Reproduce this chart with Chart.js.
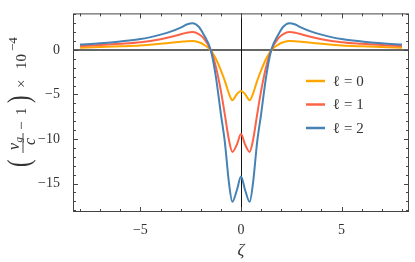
<!DOCTYPE html>
<html>
<head>
<meta charset="utf-8">
<script src="https://cdn.jsdelivr.net/npm/chart.js@4"></script>
<style>
  body { margin: 0; background: #fff; }
</style>
</head>
<body>
<canvas id="graphique-vitesse" width="415" height="262"></canvas>
<script>
// Données (zeta en abscisse, (v_g/c - 1) x 10^-4 en ordonnée)
const zeta = [-8, -7, -6, -5, -4, -3.5, -3, -2.7, -2.4, -2.1, -1.85, -1.5, -1.25, -1, -0.8, -0.6, -0.43, -0.2, 0,
  0.2, 0.43, 0.6, 0.8, 1, 1.25, 1.5, 1.85, 2.1, 2.4, 2.7, 3, 3.5, 4, 5, 6, 7, 8];
const vitesseL0 = [0.25, 0.32, 0.4, 0.5, 0.68, 0.8, 0.91, 0.98, 1.0, 0.86, 0.6, -0.05, -1.0, -2.3, -3.5, -4.9, -5.65, -4.95, -4.6,
  -4.95, -5.65, -4.9, -3.5, -2.3, -1.0, -0.05, 0.6, 0.86, 1.0, 0.98, 0.91, 0.8, 0.68, 0.5, 0.4, 0.32, 0.25];
const vitesseL1 = [0.43, 0.54, 0.68, 0.86, 1.2, 1.45, 1.75, 1.93, 2.0, 1.78, 1.3, -0.05, -1.9, -4.6, -7.3, -10.1, -11.45, -10.6, -9.45,
  -10.6, -11.45, -10.1, -7.3, -4.6, -1.9, -0.05, 1.3, 1.78, 2.0, 1.93, 1.75, 1.45, 1.2, 0.86, 0.68, 0.54, 0.43];
const vitesseL2 = [0.6, 0.75, 0.95, 1.22, 1.72, 2.05, 2.5, 2.85, 3.0, 2.6, 1.7, -0.05, -3.0, -7.2, -10.4, -14.9, -17.05, -15.7, -14.2,
  -15.7, -17.05, -14.9, -10.4, -7.2, -3.0, -0.05, 1.7, 2.6, 3.0, 2.85, 2.5, 2.05, 1.72, 1.22, 0.95, 0.75, 0.6];

const etiquettes = ["ℓ = 0", "ℓ = 1", "ℓ = 2"];
const couleurs = ["#ffa500", "#fc6347", "#4682b4"];
const ticksX = [-5, 0, 5];
const ticksY = [-15, -10, -5, 0];

const serif = '"Liberation Serif", "DejaVu Serif", serif';
const texteCouleur = "#333";

function points(valeurs) {
  return zeta.map((z, i) => ({ x: z, y: valeurs[i] }));
}

function formatMoins(v) {
  return v < 0 ? "−" + Math.abs(v) : String(v);
}

function trait(ctx, x1, y1, x2, y2) {
  ctx.beginPath();
  ctx.moveTo(x1, y1);
  ctx.lineTo(x2, y2);
  ctx.stroke();
}

// titre vertical dessiné à la main (fraction + exposant)
function dessinerTitreY(ctx) {
  ctx.save();
  ctx.translate(0, 168);
  ctx.rotate(-Math.PI / 2);
  ctx.fillStyle = texteCouleur;
  ctx.strokeStyle = texteCouleur;
  ctx.textAlign = "left";
  ctx.textBaseline = "alphabetic";

  // grandes parenthèses, un peu comprimées pour rester fines
  ctx.save();
  ctx.scale(0.7, 1);
  ctx.font = "32px " + serif;
  ctx.fillText("(", 1 / 0.7, 29);
  ctx.fillText(")", 65 / 0.7, 29);
  ctx.restore();

  ctx.font = "italic 16px " + serif;
  ctx.fillText("v", 18, 19);
  ctx.fillText("c", 23, 35);
  ctx.font = "italic 11px " + serif;
  ctx.fillText("g", 25.5, 21.5);
  ctx.lineWidth = 0.9;
  trait(ctx, 15, 23, 35, 23);

  ctx.font = "15px " + serif;
  ctx.fillText("−", 38, 25.5);
  ctx.fillText("1", 53, 25.5);
  ctx.fillText("×", 80, 25.5);
  ctx.fillText("10", 99, 25.5);
  ctx.font = "13px " + serif;
  ctx.fillText("−4", 117, 17);
  ctx.restore();
}

const pluginCadre = {
  id: "cadre",
  beforeDatasetsDraw(chart) {
    const { ctx, chartArea: a, scales } = chart;
    const y0 = scales.y.getPixelForValue(0);
    const x0 = scales.x.getPixelForValue(0);
    ctx.save();
    ctx.strokeStyle = "#666";
    ctx.lineWidth = 2;
    trait(ctx, a.left, y0, a.right, y0);
    ctx.strokeStyle = "#111";
    ctx.lineWidth = 1;
    trait(ctx, Math.round(x0) + 0.5, a.top, Math.round(x0) + 0.5, a.bottom);
    ctx.restore();
  },
  afterDatasetsDraw(chart) {
    const { ctx, chartArea: a, scales } = chart;
    ctx.save();
    ctx.strokeStyle = "#444";
    ctx.lineWidth = 1;
    ctx.strokeRect(a.left + 0.5, a.top + 0.5, a.right - a.left - 1, a.bottom - a.top - 1);

    // graduations vers l'intérieur, sur les 4 côtés
    for (let v = -8; v <= 8; v++) {
      const px = Math.round(scales.x.getPixelForValue(v)) + 0.5;
      const l = v % 5 === 0 ? 5 : 3;
      trait(ctx, px, a.bottom, px, a.bottom - l);
      trait(ctx, px, a.top, px, a.top + l);
    }
    for (let v = -18; v <= 4; v++) {
      const py = Math.round(scales.y.getPixelForValue(v)) + 0.5;
      const l = v % 5 === 0 ? 5 : 3;
      trait(ctx, a.left, py, a.left + l, py);
      trait(ctx, a.right, py, a.right - l, py);
    }

    // légende
    const lignesY = [81, 104.5, 128];
    chart.data.datasets.forEach((ds, i) => {
      ctx.strokeStyle = ds.borderColor;
      ctx.lineWidth = 2.5;
      trait(ctx, 306, lignesY[i], 325, lignesY[i]);
      ctx.fillStyle = texteCouleur;
      ctx.font = "15px " + serif;
      ctx.textBaseline = "middle";
      ctx.fillText(ds.label, 333, lignesY[i] + 1);
    });
    ctx.restore();

    dessinerTitreY(ctx);
  }
};

const data = {
  datasets: [
    { label: etiquettes[0], data: points(vitesseL0), borderColor: couleurs[0], order: 3 },
    { label: etiquettes[1], data: points(vitesseL1), borderColor: couleurs[1], order: 2 },
    { label: etiquettes[2], data: points(vitesseL2), borderColor: couleurs[2], order: 1 },
  ],
};

const config = {
  type: "line",
  data: data,
  options: {
    responsive: false,
    animation: false,
    devicePixelRatio: 1,
    layout: { padding: { top: 5, right: 6, left: 0, bottom: 0 } },
    elements: {
      point: { radius: 0 },
      line: { borderWidth: 2, cubicInterpolationMode: "monotone", fill: false },
    },
    plugins: { legend: { display: false }, tooltip: { enabled: false } },
    scales: {
      x: {
        type: "linear",
        min: -8.35,
        max: 8.35,
        afterBuildTicks: (scale) => { scale.ticks = ticksX.map((v) => ({ value: v })); },
        afterFit: (scale) => { scale.height = 50; },
        ticks: { callback: formatMoins, color: texteCouleur, font: { family: serif, size: 14 }, padding: 2, maxRotation: 0 },
        grid: { display: false },
        border: { display: false },
        title: { display: true, text: "ζ", color: texteCouleur, font: { family: serif, size: 17, style: "italic" }, padding: { top: 0, bottom: 1 } },
      },
      y: {
        min: -18.2,
        max: 4.1,
        afterBuildTicks: (scale) => { scale.ticks = ticksY.map((v) => ({ value: v })); },
        afterFit: (scale) => { scale.width = 73; },
        ticks: { callback: formatMoins, color: texteCouleur, font: { family: serif, size: 14 }, padding: 5 },
        grid: { display: false },
        border: { display: false },
      },
    },
  },
  plugins: [pluginCadre],
};

new Chart(document.querySelector("#graphique-vitesse"), config);
</script>
</body>
</html>
